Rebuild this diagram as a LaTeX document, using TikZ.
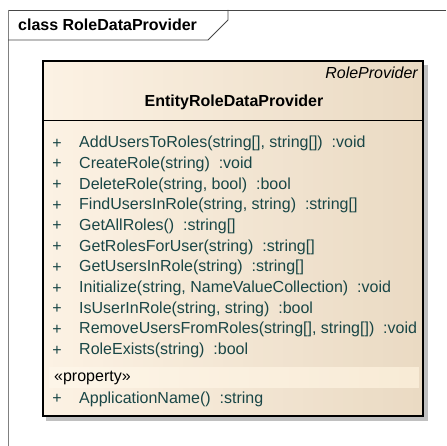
\documentclass[tikz,border=0pt]{standalone}
\usepackage{fontspec}
\setmainfont{Liberation Sans}
\definecolor{txt}{RGB}{25,70,70}
\definecolor{boxl}{RGB}{252,242,228}
\definecolor{boxr}{RGB}{234,218,195}
\definecolor{bandl}{RGB}{253,245,232}
\definecolor{bandr}{RGB}{248,235,214}
\definecolor{shadowc}{RGB}{192,192,192}
\definecolor{framec}{RGB}{70,70,70}
\begin{document}
\begin{tikzpicture}[x=1pt,y=-1pt,line cap=butt,
  meth/.style={anchor=west,inner sep=0pt,text=txt,font=\fontsize{16}{18}\selectfont},
  plus/.style={anchor=center,inner sep=0pt,text=txt,font=\fontsize{16}{18}\selectfont}]
\useasboundingbox (0,0) rectangle (446,446);
% body gradient built from thick vertical strokes
\foreach \i in {0,...,37}{
  \pgfmathsetmacro\p{100-100*\i/37}
  \draw[boxl!\p!boxr,line width=10.8pt] ({48+10*\i},61) -- ({48+10*\i},416);
}
% property band built from thick horizontal strokes
\foreach \i in {0,...,36}{
  \pgfmathsetmacro\p{100-100*\i/36}
  \pgfmathsetmacro\xe{min(59.8+10*\i,419)}
  \draw[bandl!\p!bandr,line width=21pt] ({49+10*\i},377.5) -- (\xe,377.5);
}
% shadow
\draw[shadowc,line width=5pt] (425.5,65) -- (425.5,421);
\draw[shadowc,line width=5pt] (46,418.5) -- (428,418.5);
% frame
\draw[framec,line width=0.9pt] (446,10) -- (8,10);
\draw[gray,line width=1pt] (8,10) -- (8,446);
\draw[framec,line width=0.9pt] (8,40) -- (208,40) -- (228,20) -- (228,10);
\node[anchor=west,inner sep=0pt,font=\bfseries\fontsize{16}{18}\selectfont] (title) at (18,25) {class RoleDataProvider};
% class box outline
\draw[black,line width=1.2pt] (43,61) rectangle (423,416);
\draw[black,line width=1pt] (43,121) -- (423,121);
\node[anchor=east,inner sep=0pt,font=\itshape\fontsize{16}{18}\selectfont] (parent) at (418,73) {RoleProvider};
\node[inner sep=0pt,font=\bfseries\fontsize{16}{18}\selectfont] (cname) at (234,102) {EntityRoleDataProvider};
\node[plus] (p1) at (57,143.5) {+};
\node[plus] (p2) at (57,164.2) {+};
\node[plus] (p3) at (57,184.9) {+};
\node[plus] (p4) at (57,205.6) {+};
\node[plus] (p5) at (57,226.3) {+};
\node[plus] (p6) at (57,247) {+};
\node[plus] (p7) at (57,267.7) {+};
\node[plus] (p8) at (57,288.4) {+};
\node[plus] (p9) at (57,309.1) {+};
\node[plus] (p10) at (57,329.8) {+};
\node[plus] (p11) at (57,350.5) {+};
\node[plus] (p12) at (57,399) {+};
\node[meth] (m1) at (79,143.5) {AddUsersToRoles(string[], string[])\ \ :void};
\node[meth] (m2) at (79,164.2) {CreateRole(string)\ \ :void};
\node[meth] (m3) at (79,184.9) {DeleteRole(string, bool)\ \ :bool};
\node[meth] (m4) at (79,205.6) {FindUsersInRole(string, string)\ \ :string[]};
\node[meth] (m5) at (79,226.3) {GetAllRoles()\ \ :string[]};
\node[meth] (m6) at (79,247) {GetRolesForUser(string)\ \ :string[]};
\node[meth] (m7) at (79,267.7) {GetUsersInRole(string)\ \ :string[]};
\node[meth] (m8) at (79,288.4) {Initialize(string, NameValueCollection)\ \ :void};
\node[meth] (m9) at (79,309.1) {IsUserInRole(string, string)\ \ :bool};
\node[meth] (m10) at (79,329.8) {RemoveUsersFromRoles(string[], string[])\ \ :void};
\node[meth] (m11) at (79,350.5) {RoleExists(string)\ \ :bool};
\node[meth,text=black] (prop) at (54,378) {«property»};
\node[meth] (m12) at (79,399) {ApplicationName()\ \ :string};
\end{tikzpicture}
\end{document}
